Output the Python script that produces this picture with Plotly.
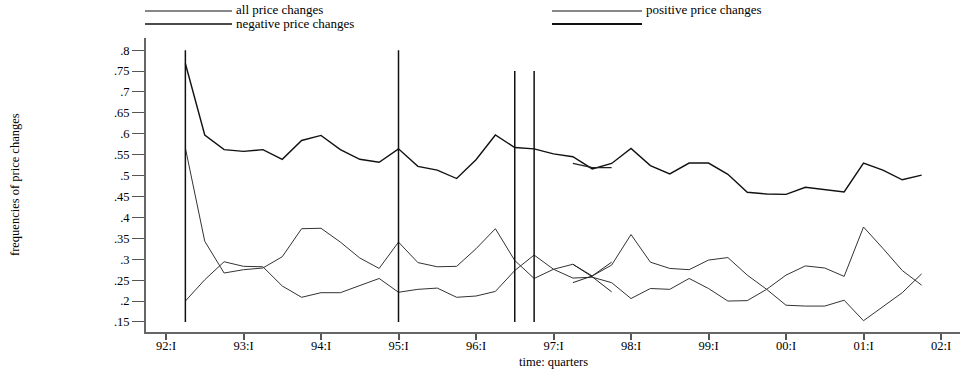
import plotly.graph_objects as go

# ---------------- data ----------------
quarters = ["92:II", "92:III", "92:IV",
            "93:I", "93:II", "93:III", "93:IV",
            "94:I", "94:II", "94:III", "94:IV",
            "95:I", "95:II", "95:III", "95:IV",
            "96:I", "96:II", "96:III", "96:IV",
            "97:I", "97:II", "97:III", "97:IV",
            "98:I", "98:II", "98:III", "98:IV",
            "99:I", "99:II", "99:III", "99:IV",
            "00:I", "00:II", "00:III", "00:IV",
            "01:I", "01:II", "01:III", "01:IV"]

all_changes = [0.768, 0.597, 0.562,
               0.558, 0.562, 0.539, 0.584,
               0.596, 0.562, 0.539, 0.532,
               0.564, 0.522, 0.513, 0.493,
               0.538, 0.597, 0.567, 0.564,
               0.552, 0.545, 0.516, 0.529,
               0.565, 0.524, 0.504, 0.530,
               0.530, 0.503, 0.460, 0.456,
               0.455, 0.472, 0.467, 0.461,
               0.530, 0.513, 0.490, 0.501]

positive_changes = [0.566, 0.343, 0.267,
                    0.275, 0.279, 0.306, 0.373,
                    0.374, 0.341, 0.303, 0.278,
                    0.341, 0.292, 0.282, 0.283,
                    0.325, 0.373, 0.297, 0.254,
                    0.276, 0.288, 0.260, 0.286,
                    0.359, 0.293, 0.278, 0.275,
                    0.298, 0.304, 0.262, 0.228,
                    0.262, 0.284, 0.279, 0.259,
                    0.377, 0.326, 0.273, 0.238]

negative_changes = [0.200, 0.251, 0.294,
                    0.283, 0.282, 0.236, 0.209,
                    0.220, 0.220, 0.237, 0.254,
                    0.221, 0.228, 0.231, 0.209,
                    0.212, 0.223, 0.273, 0.310,
                    0.276, 0.255, 0.257, 0.244,
                    0.206, 0.230, 0.228, 0.254,
                    0.230, 0.200, 0.201, 0.228,
                    0.190, 0.188, 0.188, 0.202,
                    0.153, 0.187, 0.220, 0.265]

# short overlapping segments in 1997
sub_quarters = ["97:II", "97:III", "97:IV"]
all_sub = [0.529, 0.519, 0.519]
positive_sub = [0.244, 0.260, 0.293]
negative_sub = [0.288, 0.258, 0.222]

# vertical marker lines
vline_quarters = ["92:II", "95:I", "96:III", "96:IV"]
vline_low = [0.15, 0.15, 0.15, 0.15]
vline_high = [0.80, 0.80, 0.75, 0.75]

x_tick_labels = ["92:I", "93:I", "94:I", "95:I", "96:I", "97:I",
                 "98:I", "99:I", "00:I", "01:I", "02:I"]
y_tick_values = [0.15, 0.2, 0.25, 0.3, 0.35, 0.4, 0.45,
                 0.5, 0.55, 0.6, 0.65, 0.7, 0.75, 0.8]
y_tick_labels = [".15", ".2", ".25", ".3", ".35", ".4", ".45",
                 ".5", ".55", ".6", ".65", ".7", ".75", ".8"]

legend_names = ["all price changes", "positive price changes",
                "negative price changes", ""]

SERIF = "Liberation Serif, Times New Roman, Times, serif"


def qx(label):
    yy, q = label.split(":")
    y = int(yy)
    year = 1900 + y if y > 50 else 2000 + y
    return year + {"I": 0, "II": 1, "III": 2, "IV": 3}[q] / 4.0


x = [qx(q) for q in quarters]
xs = [qx(q) for q in sub_quarters]

fig = go.Figure()

fig.add_trace(go.Scatter(x=x, y=all_changes, mode="lines",
                         line=dict(color="#111111", width=1.4),
                         name=legend_names[0], showlegend=False))
fig.add_trace(go.Scatter(x=x, y=positive_changes, mode="lines",
                         line=dict(color="#333333", width=1.0),
                         name=legend_names[1], showlegend=False))
fig.add_trace(go.Scatter(x=x, y=negative_changes, mode="lines",
                         line=dict(color="#333333", width=1.0),
                         name=legend_names[2], showlegend=False))

for ys, w in ((all_sub, 1.2), (positive_sub, 1.0), (negative_sub, 1.0)):
    fig.add_trace(go.Scatter(x=xs, y=ys, mode="lines",
                             line=dict(color="#222222", width=w),
                             showlegend=False))

vx, vy = [], []
for q, lo, hi in zip(vline_quarters, vline_low, vline_high):
    vx += [qx(q), qx(q), None]
    vy += [lo, hi, None]
fig.add_trace(go.Scatter(x=vx, y=vy, mode="lines",
                         line=dict(color="#111111", width=1.5),
                         showlegend=False))

# ---------------- layout geometry (pixels) ----------------
W, H = 962, 371
L, R, T, B = 146, 2, 38, 39
PW, PH = W - L - R, H - T - B


def px(xp):
    return (xp - L) / PW


def py(yp):
    return (H - B - yp) / PH


shapes = []
annotations = []

# manual legend
legend_items = [
    (145, 232, 11, 1.1, legend_names[0]),
    (552, 642, 11, 1.0, legend_names[1]),
    (145, 232, 24, 1.5, legend_names[2]),
    (552, 642, 24, 2.0, legend_names[3]),
]
for x0, x1, yy, w, name in legend_items:
    shapes.append(dict(type="line", xref="paper", yref="paper",
                       x0=px(x0), x1=px(x1), y0=py(yy), y1=py(yy),
                       line=dict(color="#111111", width=w)))
    if name:
        annotations.append(dict(text=name, xref="paper", yref="paper",
                                x=px(x1 + 2), y=py(yy - 1), xanchor="left",
                                yanchor="middle", showarrow=False,
                                font=dict(family=SERIF, size=13)))

annotations.append(dict(text="frequencies of price changes", xref="paper",
                        yref="paper", x=px(15), y=py(185), textangle=-90,
                        xanchor="center", yanchor="middle", showarrow=False,
                        font=dict(family=SERIF, size=12.5)))
annotations.append(dict(text="time: quarters", xref="paper", yref="paper",
                        x=px(553), y=py(362), xanchor="center",
                        yanchor="middle", showarrow=False,
                        font=dict(family=SERIF, size=12.5)))

fig.update_layout(
    width=W, height=H,
    margin=dict(l=L, r=R, t=T, b=B),
    paper_bgcolor="white", plot_bgcolor="white",
    font=dict(family=SERIF, size=12.5, color="black"),
    showlegend=False,
    shapes=shapes,
    annotations=annotations,
    xaxis=dict(range=[1991.742, 2002.245],
               tickvals=[qx(t) for t in x_tick_labels],
               ticktext=x_tick_labels,
               ticks="outside", ticklen=6, tickwidth=1.5, tickcolor="#555555",
               ticklabelstandoff=-5,
               showline=True, linecolor="#666666", linewidth=1.5,
               showgrid=False, zeroline=False,
               tickfont=dict(family=SERIF, size=12.5)),
    yaxis=dict(range=[0.126, 0.829],
               tickvals=y_tick_values, ticktext=y_tick_labels,
               ticks="outside", ticklen=12, tickwidth=1.2, tickcolor="#555555",
               showline=True, linecolor="#666666", linewidth=2,
               showgrid=False, zeroline=False,
               tickfont=dict(family=SERIF, size=12.5)),
)

fig.write_html("out.html")
